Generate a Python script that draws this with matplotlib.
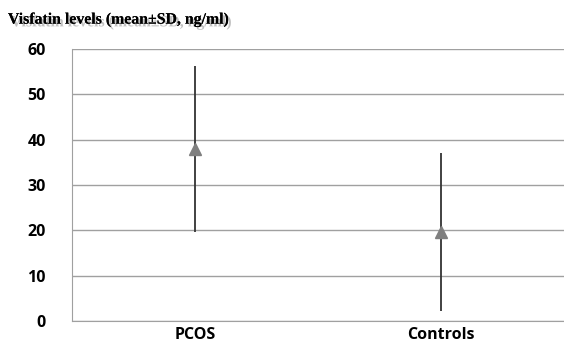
import matplotlib
matplotlib.use("Agg")
import matplotlib.pyplot as plt
import matplotlib.patheffects as pe

groups = ["PCOS", "Controls"]
means = [37.9, 19.6]
upper = [56.2, 37.1]
lower = [19.6, 2.1]
yticks = [0, 10, 20, 30, 40, 50, 60]

fig = plt.figure(figsize=(5.64, 3.44), dpi=100)
ax = fig.add_axes([0.1277, 0.0669, 0.8723, 0.7907])

x = [0, 1]
ax.vlines(x, lower, upper, color="#333333", linewidth=1.3, zorder=3)
ax.plot(x, means, linestyle="none", marker="^", markersize=8, color="#7f7f7f", zorder=4)

ax.set_xlim(-0.5, 1.5)
ax.set_ylim(0, 60)
ax.set_yticks(yticks)
ax.set_xticks(x)
ax.set_xticklabels(groups)
ax.grid(axis="y", color="#a0a0a0", linewidth=1)
ax.set_axisbelow(True)
for s in ["top", "right"]:
    ax.spines[s].set_visible(False)
for s in ["left", "bottom"]:
    ax.spines[s].set_color("#a0a0a0")
ax.tick_params(length=0)
ax.tick_params(axis="y", pad=19)
ax.tick_params(axis="x", pad=4)
for lab in ax.get_xticklabels() + ax.get_yticklabels():
    lab.set_fontfamily("Open Sans")
    lab.set_fontweight("bold")
    lab.set_fontsize(11.5)

fig.text(0.014, 0.943, "Visfatin levels (mean\u00b1SD, ng/ml)", family="Liberation Serif",
         fontweight="bold", fontsize=11.4, va="center", ha="left",
         path_effects=[pe.withSimplePatchShadow(offset=(2, -2), shadow_rgbFace="#999999", alpha=0.6),
                       pe.Normal()])

fig.savefig("out.png", dpi=100)
